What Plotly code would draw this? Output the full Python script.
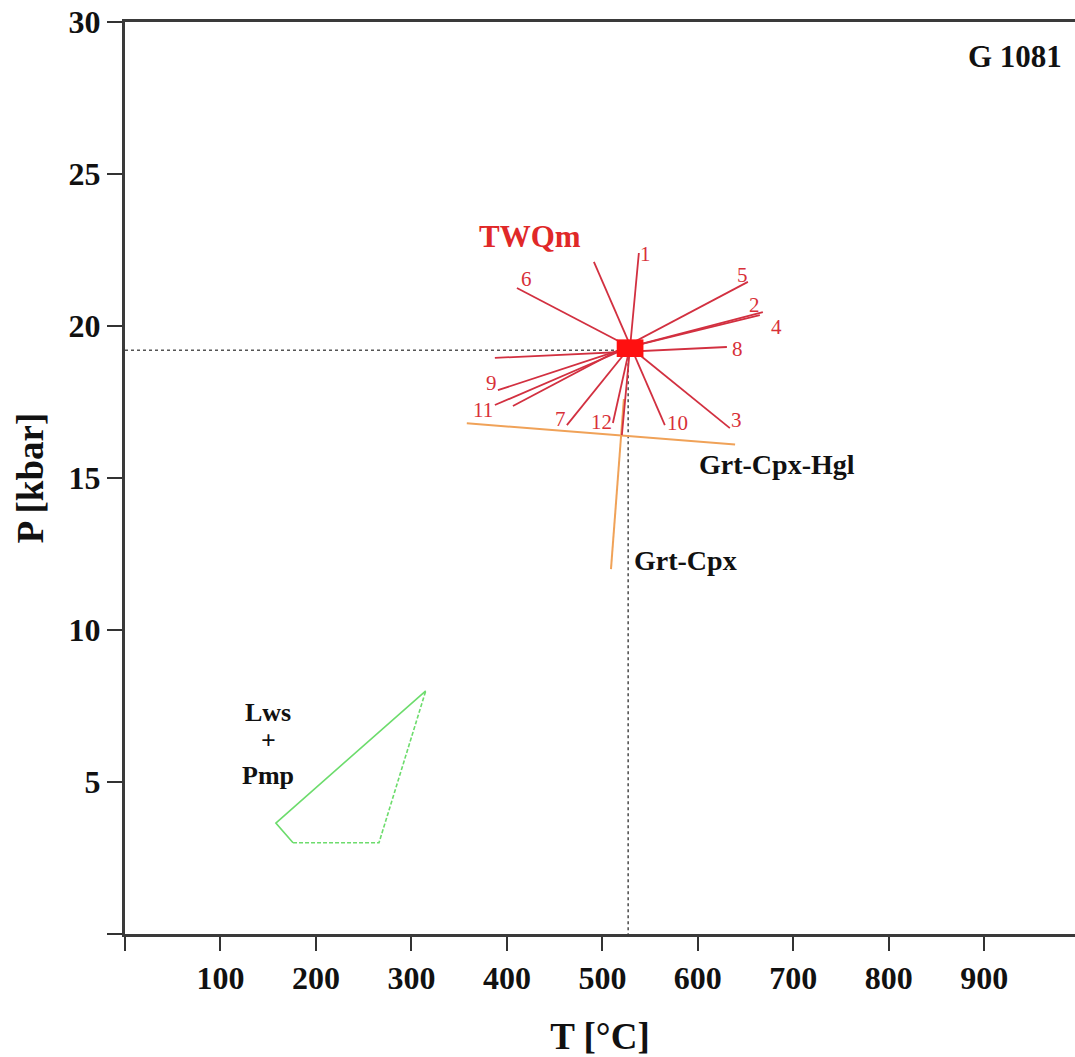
import plotly.graph_objects as go

# TWQm reaction lines: end points (T in °C, P in kbar) and the label at one end
twq_labels = ["1", "2", "3", "4", "5", "6", "7", "8", "9", "10", "11", "12"]
twq_t1 = [538.2, 528.8, 528.8, 528.8, 406.3, 410.5, 528.8, 387.4, 390.6, 491.1, 387.4, 528.8]
twq_p1 = [22.40, 19.31, 19.31, 19.31, 17.37, 21.25, 19.31, 18.95, 17.89, 22.11, 17.40, 19.31]
twq_t2 = [520.4, 668.1, 633.5, 664.9, 652.4, 528.8, 462.8, 630.4, 528.8, 565.4, 528.8, 511.0]
twq_p2 = [16.41, 20.46, 16.64, 20.36, 21.45, 19.31, 16.74, 19.31, 19.31, 16.74, 19.31, 16.81]
label_t = [545.5, 659.7, 640.8, 682.7, 647.1, 421.0, 456.5, 641.9, 384.3, 579.0, 374.9, 499.5]
label_p = [22.37, 20.69, 16.91, 19.97, 21.68, 21.55, 16.94, 19.24, 18.13, 16.81, 17.24, 16.84]

# TWQm intersection (mean P-T estimate)
twq_t, twq_p = 529.0, 19.27
cross_t, cross_p = 527.0, 19.2

# Conventional thermometers / barometers
grt_cpx_hgl_t = [358.0, 639.0]
grt_cpx_hgl_p = [16.80, 16.10]
grt_cpx_t = [522.5, 509.0]
grt_cpx_p = [17.60, 12.00]

# Lawsonite + pumpellyite field
lws_t = [266.0, 315.0, 158.0, 176.0, 266.0]
lws_p = [3.00, 8.00, 3.65, 3.00, 3.00]

x_ticks = [0, 100, 200, 300, 400, 500, 600, 700, 800, 900]
y_ticks = [0, 5, 10, 15, 20, 25, 30]

SERIF = "Liberation Serif"
RED_LINE = "#d23040"
RED_TEXT = "#d83038"
ORANGE = "#f0a258"
GREEN = "#6cdc6c"

fig = go.Figure()

# dotted cross-hair through the mean P-T
fig.add_trace(go.Scatter(x=[0, cross_t, cross_t], y=[cross_p, cross_p, 0], mode="lines",
                         line=dict(color="#555555", width=1.6, dash="dot"),
                         hoverinfo="skip", showlegend=False))

# orange thermobarometry lines
fig.add_trace(go.Scatter(x=grt_cpx_hgl_t, y=grt_cpx_hgl_p, mode="lines",
                         line=dict(color=ORANGE, width=2), showlegend=False))
fig.add_trace(go.Scatter(x=grt_cpx_t, y=grt_cpx_p, mode="lines",
                         line=dict(color=ORANGE, width=2), showlegend=False))

# TWQm reactions
for i in range(len(twq_labels)):
    fig.add_trace(go.Scatter(x=[twq_t1[i], twq_t2[i]], y=[twq_p1[i], twq_p2[i]], mode="lines",
                             line=dict(color=RED_LINE, width=1.8), showlegend=False))
    fig.add_annotation(x=label_t[i], y=label_p[i], text=twq_labels[i], showarrow=False,
                       xanchor="center", yanchor="middle",
                       font=dict(family=SERIF, size=21, color=RED_TEXT))

# Lws + Pmp stability field: solid upper edges, dashed lower edges
fig.add_trace(go.Scatter(x=lws_t[1:4], y=lws_p[1:4], mode="lines",
                         line=dict(color=GREEN, width=1.6), showlegend=False))
fig.add_trace(go.Scatter(x=[lws_t[3], lws_t[4], lws_t[1]], y=[lws_p[3], lws_p[4], lws_p[1]],
                         mode="lines", line=dict(color=GREEN, width=1.6, dash="4px,2px"),
                         showlegend=False))

# mean TWQm result as a filled red box
half_t, half_p = 14.0, 0.29
fig.add_shape(type="rect", xref="x", yref="y",
              x0=twq_t - half_t, x1=twq_t + half_t, y0=twq_p - half_p, y1=twq_p + half_p,
              fillcolor="#ff1010", line=dict(width=0))

# text labels
fig.add_annotation(x=424, y=22.96, text="<b>TWQm</b>", showarrow=False,
                   font=dict(family=SERIF, size=31, color="#e02828"))
fig.add_annotation(x=599, y=15.46, text="<b>Grt-Cpx-Hgl</b>", showarrow=False, xanchor="left",
                   font=dict(family=SERIF, size=28, color="#111111"))
fig.add_annotation(x=531, y=12.27, text="<b>Grt-Cpx</b>", showarrow=False, xanchor="left",
                   font=dict(family=SERIF, size=28, color="#111111"))
for txt, p in [("Lws", 7.30), ("+", 6.35), ("Pmp", 5.23)]:
    fig.add_annotation(x=150, y=p, text=f"<b>{txt}</b>", showarrow=False,
                       font=dict(family=SERIF, size=26, color="#111111"))
fig.add_annotation(x=983, y=28.85, text="<b>G 1081</b>", showarrow=False, xanchor="right",
                   font=dict(family=SERIF, size=31, color="#111111"))

axis_font = dict(family=SERIF, size=32, color="#111111", weight="bold")
title_font = dict(family=SERIF, size=37, color="#111111", weight="bold")
fig.update_xaxes(range=[0, 995], tickvals=x_ticks,
                 ticktext=["" if v == 0 else str(v) for v in x_ticks],
                 ticks="outside", ticklen=14, tickwidth=2, tickcolor="#333333",
                 showline=True, linecolor="#3a3a3a", linewidth=3, mirror=True,
                 showgrid=False, zeroline=False, tickfont=axis_font,
                 title=dict(text="T [°C]", font=title_font, standoff=30))
fig.update_yaxes(range=[0, 30], tickvals=y_ticks,
                 ticktext=["" if v == 0 else str(v) for v in y_ticks],
                 ticks="outside", ticklen=15, tickwidth=2, tickcolor="#333333",
                 showline=True, linecolor="#3a3a3a", linewidth=3,
                 showgrid=False, zeroline=False, tickfont=axis_font,
                 title=dict(text="P [kbar]", font=title_font, standoff=14))

fig.update_layout(width=1075, height=1057, margin=dict(l=125, r=0, t=22, b=123),
                  paper_bgcolor="white", plot_bgcolor="white", showlegend=False)

fig.write_html("out.html")
